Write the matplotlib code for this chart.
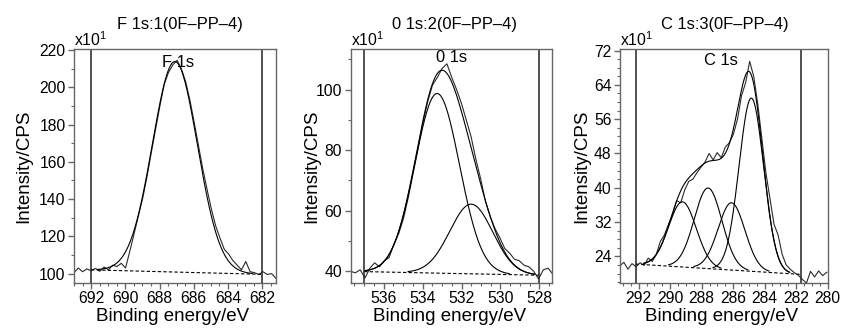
import numpy as np
import matplotlib
matplotlib.use('Agg')
import matplotlib.pyplot as plt
from matplotlib.ticker import MultipleLocator

plt.rcParams['font.family'] = ['Liberation Sans', 'DejaVu Sans']
plt.rcParams['mathtext.fontset'] = 'custom'
plt.rcParams['mathtext.rm'] = 'Liberation Sans'

# ---- data (intensities in units of x10 CPS) ----
titles = ['F 1s:1(0F\u2013PP\u20134)', '0 1s:2(0F\u2013PP\u20134)', 'C 1s:3(0F\u2013PP\u20134)']
peak_names = ['F 1s', '0 1s', 'C 1s']

# raw spectra: first/last binding energy and the measured counts in between
f1s_range = (693.0, 681.2)
f1s_counts = [100.5, 103.0, 101.0, 102.5, 101.5, 102.8, 101.2, 103.5, 102.0, 104.5,
              103.8, 105.5, 103.0, 112.0, 121.5, 131.0, 140.5, 152.0, 165.0, 177.5,
              190.0, 201.5, 208.0, 212.0, 214.5, 210.0, 203.0, 193.0, 181.0, 168.5,
              156.0, 145.0, 134.5, 125.5, 119.0, 113.0, 110.5, 107.0, 104.5, 102.0,
              106.5, 101.0, 100.5, 99.5, 101.0, 99.5, 100.0, 97.5]

o1s_range = (537.7, 527.3)
o1s_counts = [40.0, 39.5, 40.5, 37.8, 41.0, 42.8, 41.5, 43.5, 44.5, 49.0,
              52.5, 57.5, 64.5, 72.5, 80.5, 89.0, 96.0, 101.5, 104.0, 107.0,
              108.5, 104.0, 100.0, 95.5, 90.0, 84.5, 77.0, 70.5, 63.0, 58.0,
              54.0, 51.0, 47.5, 46.0, 44.0, 43.5, 42.0, 41.5, 40.0, 37.5,
              40.5, 41.0, 39.0]

c1s_range = (293.2, 280.05)
c1s_counts = [21.8, 22.6, 21.0, 22.3, 21.6, 22.5, 21.9, 23.6, 22.8, 24.5,
              27.5, 29.0, 31.5, 33.8, 37.0, 36.5, 39.5, 41.5, 42.0, 43.5,
              44.8, 46.0, 48.0, 46.5, 48.2, 47.0, 49.5, 50.5, 52.5, 56.0,
              61.5, 64.5, 69.5, 66.0, 59.5, 51.5, 43.5, 37.5, 31.5, 29.0,
              24.5, 22.0, 21.0, 20.2, 19.6, 18.6, 17.8, 20.5, 19.2, 20.6,
              19.5, 20.3]

# fit region (vertical markers) and baseline values at its two ends
f1s_region, f1s_base = (692.0, 682.0), (102.0, 99.6)
o1s_region, o1s_base = (537.0, 528.0), (39.9, 38.7)
c1s_region, c1s_base = (292.2, 281.7), (22.2, 19.8)

# fitted components: centre (eV), height above baseline, FWHM (eV)
f1s_centres, f1s_heights, f1s_fwhm = [687.1], [113.0], [3.1]
o1s_centres, o1s_heights, o1s_fwhm = [533.25, 531.5], [59.3, 23.0], [2.7, 2.6]
c1s_centres = [289.22, 287.59, 286.1, 284.84]
c1s_heights = [15.2, 18.8, 15.7, 40.4]
c1s_fwhm = [2.07, 2.07, 2.0, 1.84]

# axis settings
xlims = [(693.0, 681.2), (537.7, 527.35), (293.2, 280.05)]
ylims = [(95.2, 220.4), (36.3, 113.3), (17.9, 72.3)]
yticks = [np.arange(100, 221, 20), np.arange(40, 101, 20), np.arange(24, 73, 8)]
yminor = [10, 10, 2]
xticks = [np.arange(682, 693, 2), np.arange(528, 537, 2), np.arange(280, 293, 2)]

panels = [
    (f1s_range, f1s_counts, f1s_region, f1s_base, f1s_centres, f1s_heights, f1s_fwhm),
    (o1s_range, o1s_counts, o1s_region, o1s_base, o1s_centres, o1s_heights, o1s_fwhm),
    (c1s_range, c1s_counts, c1s_region, c1s_base, c1s_centres, c1s_heights, c1s_fwhm),
]

ax_pos = [[0.088, 0.1465, 0.240, 0.7045],
          [0.4168, 0.1465, 0.2396, 0.7045],
          [0.737, 0.1465, 0.247, 0.7045]]
title_x = [0.525, 0.514, 0.505]
name_pos = [(0.515, 0.945), (0.499, 0.963), (0.487, 0.95)]
ylabel_x = [-0.208, -0.151, -0.1415]

SPINE = '#666666'

fig = plt.figure(figsize=(8.41, 3.31), dpi=100)

for i, (rng, counts, region, base, cens, hts, fwhms) in enumerate(panels):
    ax = fig.add_axes(ax_pos[i])

    e = np.linspace(rng[0], rng[1], len(counts))
    ax.plot(e, counts, color='#2a2a2a', lw=0.8)

    # model curves over the fit region
    xf = np.linspace(region[0], region[1], 400)
    bl = np.interp(xf, [region[1], region[0]], [base[1], base[0]])
    ax.plot(xf, bl, color='black', lw=0.8, ls=(0, (3, 2)))
    env = np.zeros_like(xf)
    for c, h, w in zip(cens, hts, fwhms):
        sig = w / 2.3548
        comp = h * np.exp(-(xf - c) ** 2 / (2 * sig ** 2))
        env += comp
        if len(cens) > 1:
            ax.plot(xf, np.where(comp > 0.3, comp + bl, np.nan), color='black', lw=0.8)
    ax.plot(xf, np.where(env > 0.3, env + bl, np.nan), color='black', lw=0.8)

    for r in region:
        ax.axvline(r, color='#222222', lw=1.1)

    ax.set_xlim(*xlims[i])
    ax.set_ylim(*ylims[i])
    ax.set_xticks(xticks[i])
    ax.set_yticks(yticks[i])
    ax.xaxis.set_minor_locator(MultipleLocator(0.5))
    ax.yaxis.set_minor_locator(MultipleLocator(yminor[i]))
    ax.tick_params(which='both', direction='out', color=SPINE, labelsize=11.3,
                   top=False, right=False)
    ax.tick_params(which='major', length=4, width=1, pad=2)
    ax.tick_params(which='minor', length=2.5, width=0.8)
    for s in ax.spines.values():
        s.set_color(SPINE)
        s.set_linewidth(1.0)

    ax.set_xlabel('Binding energy/eV', fontsize=13.5)
    ax.xaxis.set_label_coords(0.49, -0.11)
    ax.set_ylabel('Intensity/CPS', fontsize=13.5)
    ax.yaxis.set_label_coords(ylabel_x[i], 0.5)

    ax.text(title_x[i], 1.108, titles[i], transform=ax.transAxes, ha='center',
            va='center', fontsize=11.9)
    ax.text(0.0, 1.0, r'x10$^{1}$', transform=ax.transAxes, ha='left',
            va='bottom', fontsize=11.3)
    ax.text(name_pos[i][0], name_pos[i][1], peak_names[i], transform=ax.transAxes,
            ha='center', va='center', fontsize=11.9)

fig.savefig('out.png', dpi=100)
